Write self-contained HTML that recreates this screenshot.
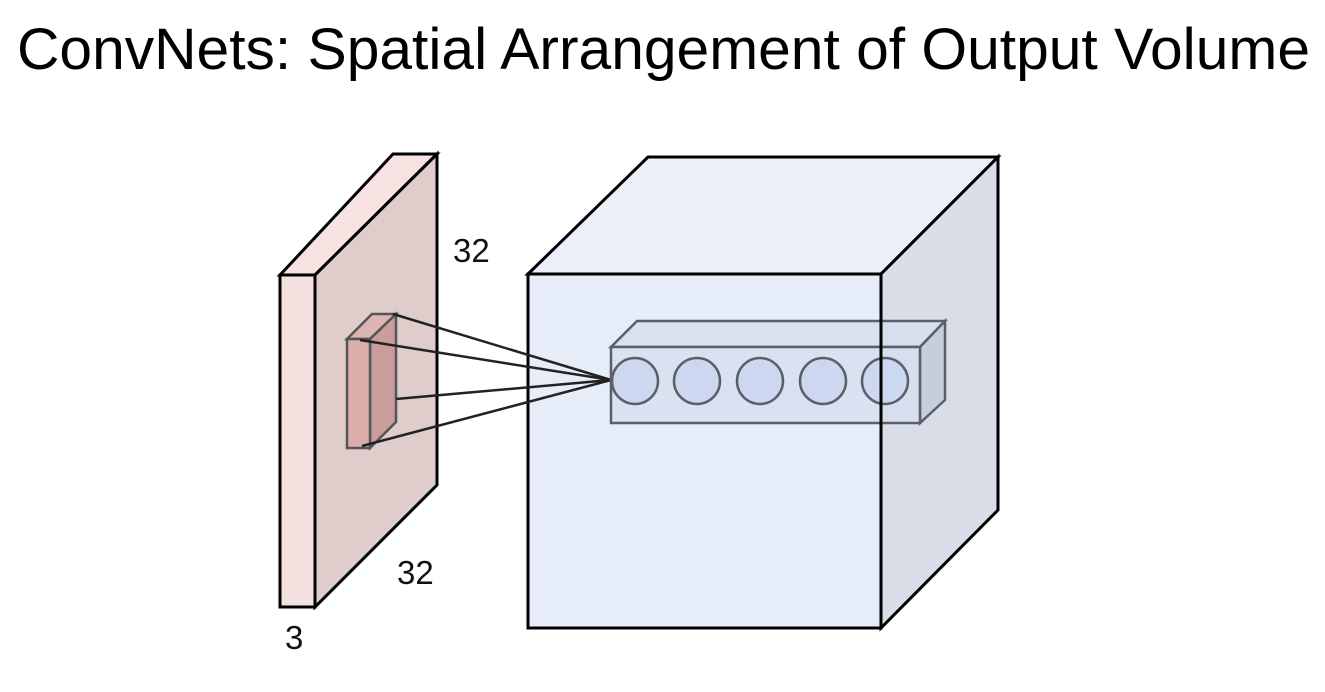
<!DOCTYPE html>
<html><head><meta charset="utf-8"><style>
html,body{margin:0;padding:0;background:#fff;width:1325px;height:692px;overflow:hidden}
svg{display:block}
</style></head><body>
<svg width="1325" height="692" viewBox="0 0 1325 692" xmlns="http://www.w3.org/2000/svg">
<text x="17" y="69" font-family="Liberation Sans, sans-serif" font-size="58" textLength="1293" lengthAdjust="spacingAndGlyphs" fill="#000">ConvNets: Spatial Arrangement of Output Volume</text>

<!-- input slab -->
<g stroke="#000" stroke-width="3" stroke-linejoin="miter">
<polygon points="280,275 393,154 437,154 315,275" fill="#f5e2e1"/>
<polygon points="315,275 437,154 437,485 315,607" fill="#dfcccb"/>
<rect x="280" y="275" width="35" height="332" fill="#f4e1df"/>
</g>
<!-- kernel -->
<g stroke="#555" stroke-width="2.5">
<polygon points="347,339 372,314 396,314 370,339" fill="#ddb6b4"/>
<polygon points="370,339 396,314 396,422 370,448" fill="#c89d9c"/>
<rect x="347" y="339" width="23" height="109" fill="#dcaeab"/>
</g>

<!-- big cube -->
<g stroke="#000" stroke-width="3">
<polygon points="528,274 648,157 998,157 881,274" fill="#eaeff9"/>
<rect x="528" y="274" width="353" height="354" fill="#e6ecf8"/>
<polygon points="881,274 998,157 998,510 881,628" fill="#d8dde7"/>
</g>

<!-- lines -->
<g stroke="#222" stroke-width="2.5">
<line x1="393" y1="314" x2="611" y2="380"/>
<line x1="360" y1="340" x2="611" y2="380"/>
<line x1="396" y1="399" x2="611" y2="380"/>
<line x1="362" y1="446" x2="611" y2="380"/>
</g>

<!-- bar -->
<g stroke="#5a6068" stroke-width="2.5" fill-opacity="0.8">
<polygon points="611,347 637,321 945,321 920,347" fill="#d7dfee"/>
<polygon points="920,347 945,321 945,400 920,423" fill="#c3cad8"/>
<rect x="611" y="347" width="309" height="76" fill="#d7e0f0"/>
<circle cx="635" cy="381" r="23" fill="#c9d6ef"/>
<circle cx="697" cy="381" r="23" fill="#c9d6ef"/>
<circle cx="760" cy="381" r="23" fill="#c9d6ef"/>
<circle cx="823" cy="381" r="23" fill="#c9d6ef"/>
<circle cx="885" cy="381" r="23" fill="#c9d6ef"/>
</g>
<line x1="881" y1="274" x2="881" y2="628" stroke="#000" stroke-width="3"/>

<g font-family="Liberation Sans, sans-serif" font-size="33" fill="#111">
<text x="453" y="262">32</text>
<text x="397" y="584">32</text>
<text x="285" y="649">3</text>
</g>
</svg>
</body></html>
